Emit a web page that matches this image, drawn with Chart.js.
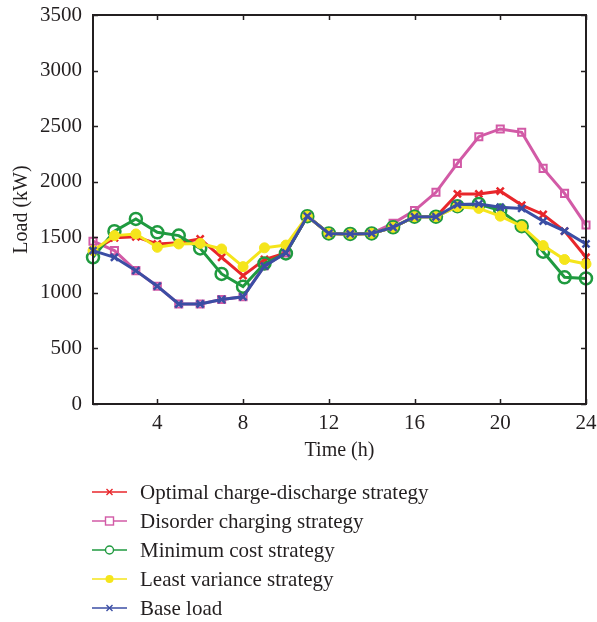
<!DOCTYPE html>
<html>
<head>
<meta charset="utf-8">
<script src="https://cdn.jsdelivr.net/npm/chart.js@4/dist/chart.umd.min.js"></script>
<style>
  html, body { margin: 0; padding: 0; background: #fff; }
  #wrap { width: 597px; height: 622px; }
</style>
</head>
<body>
<div id="wrap"><canvas id="loadChart" width="597" height="622"></canvas></div>
<script>
// ========================== DATA =============================

const hours = [1, 2, 3, 4, 5, 6, 7, 8, 9, 10, 11, 12, 13, 14, 15, 16, 17, 18, 19, 20, 21, 22, 23, 24];
const xTicks = [4, 8, 12, 16, 20, 24];

const optimalLoad = [1380, 1495, 1505, 1440, 1450, 1485, 1320, 1155, 1300, 1360, 1690, 1535, 1530, 1535, 1590, 1685, 1685, 1890, 1890, 1915, 1790, 1705, 1555, 1320];
const disorderLoad = [1465, 1380, 1200, 1060, 900, 900, 940, 965, 1245, 1360, 1690, 1535, 1530, 1535, 1625, 1740, 1905, 2165, 2405, 2475, 2445, 2120, 1895, 1610];
const minCostLoad = [1320, 1555, 1665, 1545, 1515, 1400, 1170, 1056, 1265, 1355, 1690, 1535, 1530, 1535, 1590, 1685, 1685, 1780, 1800, 1740, 1600, 1370, 1140, 1130];
const leastVarLoad = [1380, 1515, 1530, 1410, 1440, 1445, 1395, 1236, 1405, 1430, 1690, 1535, 1530, 1535, 1590, 1685, 1685, 1775, 1760, 1690, 1600, 1425, 1300, 1260];
const baseLoad = [1380, 1320, 1200, 1060, 900, 900, 940, 965, 1240, 1360, 1690, 1535, 1530, 1535, 1590, 1685, 1685, 1795, 1800, 1770, 1760, 1645, 1555, 1440];

const FONT = '"Liberation Serif", "DejaVu Serif", serif';
const INK = "#231f20";

// ==================================== HELPERS ============================================

function toPoints(values) {
  return hours.map((h, i) => ({ x: h, y: values[i] }));
}

function series(label, values, color, style, order) {
  return {
    label: label,
    data: toPoints(values),
    borderColor: color,
    backgroundColor: style.fill ? color : "transparent",
    pointBorderColor: color,
    pointBackgroundColor: style.fill ? color : "rgba(255,255,255,0)",
    pointStyle: style.shape,
    pointRadius: style.radius,
    pointBorderWidth: style.pw,
    borderWidth: 3,
    tension: 0,
    clip: false,
    order: order,
    legendShape: style.legend,
  };
}

// draw a small legend marker
function legendMarker(ctx, shape, x, y, color) {
  ctx.save();
  ctx.strokeStyle = color;
  ctx.fillStyle = color;
  ctx.lineWidth = 1.4;
  ctx.beginPath();
  if (shape === "cross") {
    ctx.moveTo(x - 3, y - 3); ctx.lineTo(x + 3, y + 3);
    ctx.moveTo(x + 3, y - 3); ctx.lineTo(x - 3, y + 3);
    ctx.stroke();
  } else if (shape === "square") {
    ctx.fillStyle = "#fff";
    ctx.fillRect(x - 4, y - 4, 8, 8);
    ctx.strokeRect(x - 4, y - 4, 8, 8);
  } else if (shape === "circle") {
    ctx.fillStyle = "#fff";
    ctx.arc(x, y, 4, 0, Math.PI * 2);
    ctx.fill();
    ctx.stroke();
  } else if (shape === "dot") {
    ctx.arc(x, y, 4, 0, Math.PI * 2);
    ctx.fill();
  }
  ctx.restore();
}

// frame, inward ticks, axis titles and the stacked legend
const framePlugin = {
  id: "frame",
  beforeDraw(chart) {
    const ctx = chart.ctx;
    ctx.save();
    ctx.fillStyle = "#fff";
    ctx.fillRect(0, 0, chart.width, chart.height);
    ctx.restore();
  },
  afterDraw(chart) {
    const ctx = chart.ctx;
    const a = chart.chartArea;
    const xs = chart.scales.x;
    const ys = chart.scales.y;
    ctx.save();
    ctx.strokeStyle = INK;
    ctx.lineWidth = 2;
    ctx.strokeRect(a.left, a.top, a.right - a.left, a.bottom - a.top);

    ctx.lineWidth = 1.5;
    ctx.beginPath();
    ys.ticks.forEach((t) => {
      const py = Math.round(ys.getPixelForValue(t.value)) + 0.5;
      ctx.moveTo(a.left, py); ctx.lineTo(a.left + 5, py);
      ctx.moveTo(a.right, py); ctx.lineTo(a.right - 5, py);
    });
    xs.ticks.forEach((t) => {
      const px = Math.round(xs.getPixelForValue(t.value)) + 0.5;
      ctx.moveTo(px, a.bottom); ctx.lineTo(px, a.bottom - 5);
      ctx.moveTo(px, a.top); ctx.lineTo(px, a.top + 5);
    });
    ctx.stroke();

    // axis titles
    ctx.fillStyle = INK;
    ctx.font = "20px " + FONT;
    ctx.textAlign = "center";
    ctx.textBaseline = "middle";
    ctx.fillText("Time (h)", (a.left + a.right) / 2, a.bottom + 47);
    ctx.save();
    ctx.translate(22, (a.top + a.bottom) / 2);
    ctx.rotate(-Math.PI / 2);
    ctx.fillText("Load (kW)", 0, 0);
    ctx.restore();

    // legend
    ctx.font = "21px " + FONT;
    ctx.textAlign = "left";
    chart.data.datasets.forEach((ds, i) => {
      const y = 492 + i * 29;
      ctx.strokeStyle = ds.borderColor;
      ctx.lineWidth = 1.5;
      ctx.beginPath();
      ctx.moveTo(92, y); ctx.lineTo(127, y);
      ctx.stroke();
      legendMarker(ctx, ds.legendShape, 109.5, y, ds.borderColor);
      ctx.fillStyle = INK;
      ctx.fillText(ds.label, 140, y + 1);
    });
    ctx.restore();
  },
};

// ==================================== CHART ============================================

new Chart(document.getElementById("loadChart").getContext("2d"), {
  type: "line",
  data: {
    datasets: [
      series("Optimal charge-discharge strategy", optimalLoad, "#e8262b",
        { shape: "crossRot", radius: 5, pw: 2.5, fill: false, legend: "cross" }, 3),
      series("Disorder charging strategy", disorderLoad, "#d25aa6",
        { shape: "rect", radius: 5, pw: 2, fill: false, legend: "square" }, 4),
      series("Minimum cost strategy", minCostLoad, "#1f9a3f",
        { shape: "circle", radius: 6, pw: 2.5, fill: false, legend: "circle" }, 2),
      series("Least variance strategy", leastVarLoad, "#f5e51b",
        { shape: "circle", radius: 5, pw: 1, fill: true, legend: "dot" }, 1),
      series("Base load", baseLoad, "#3b4ea4",
        { shape: "crossRot", radius: 5, pw: 2.5, fill: false, legend: "cross" }, 0),
    ],
  },
  options: {
    responsive: false,
    animation: false,
    layout: { padding: { top: 15, right: 11, bottom: 158, left: 0 } },
    plugins: {
      legend: { display: false },
      tooltip: { enabled: false },
    },
    scales: {
      x: {
        type: "linear",
        min: 1,
        max: 24,
        grid: { display: false, drawTicks: false },
        border: { display: false },
        afterBuildTicks: (s) => {
          s.ticks = xTicks.map((v) => ({ value: v }));
        },
        afterFit: (s) => {
          s.height = 60;
          s.paddingLeft = 0;
          s.paddingRight = 0;
        },
        ticks: {
          padding: 7,
          color: INK,
          font: { family: FONT, size: 21 },
          maxRotation: 0,
          callback: (v) => String(v),
        },
      },
      y: {
        min: 0,
        max: 3500,
        grid: { display: false, drawTicks: false },
        border: { display: false },
        afterFit: (s) => {
          s.width = 93;
          s.paddingTop = 0;
          s.paddingBottom = 0;
        },
        ticks: {
          stepSize: 500,
          padding: 11,
          color: INK,
          font: { family: FONT, size: 21 },
          callback: (v) => String(v),
        },
      },
    },
  },
  plugins: [framePlugin],
});
</script>
</body>
</html>
